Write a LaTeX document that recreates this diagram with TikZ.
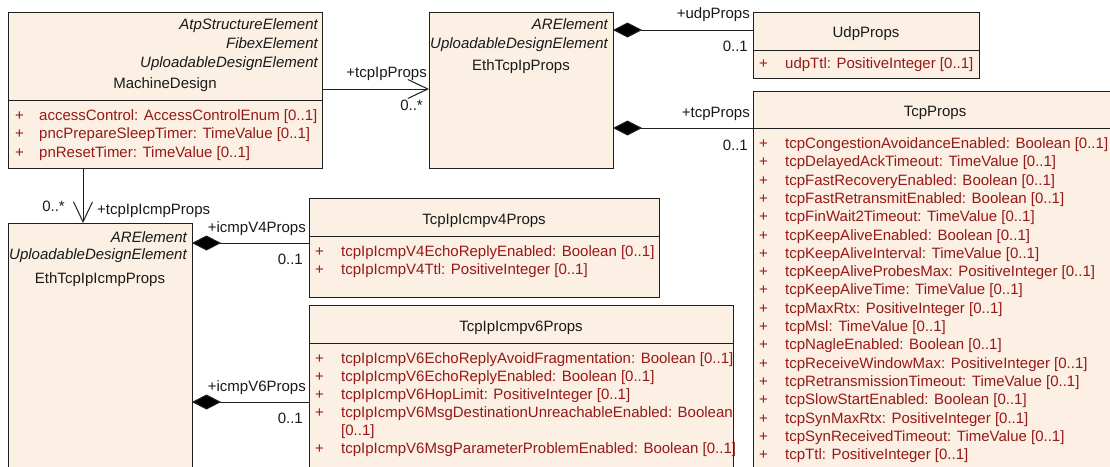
\documentclass[tikz,border=0pt]{standalone}
\usepackage{fontspec}
\setmainfont{Liberation Sans}
\usetikzlibrary{arrows.meta}
\definecolor{boxfill}{RGB}{251,240,227}
\definecolor{attr}{RGB}{150,25,25}
\definecolor{edge}{RGB}{30,30,30}
\tikzset{
  umlbox/.style={draw=edge, fill=boxfill, line width=1pt, rectangle, anchor=north west, inner sep=0pt},
  txt/.style={inner sep=0pt, text height=11pt, text depth=0pt, font=\fontsize{15}{18}\selectfont, text=black!90},
  stereo/.style={txt, anchor=east, font=\fontsize{15}{18}\selectfont\itshape},
  cname/.style={txt, anchor=center},
  plus/.style={txt, anchor=west, text=attr},
  attrt/.style={txt, anchor=west, text=attr},
  mult/.style={txt, anchor=east},
  role/.style={txt},
  comp/.style={draw=edge, line width=1pt, {Diamond[length=29pt,width=15pt,fill=black]}-},
  assoc/.style={draw=edge, line width=1pt, -{Straight Barb[length=20pt,width=19pt,line width=1pt]}},
}
\begin{document}
\begin{tikzpicture}[x=1pt,y=-1pt]
\useasboundingbox (0,0) rectangle (1110,466);
\clip (0,0) rectangle (1110,466);
\fill[white] (0,0) rectangle (1110,466);

% ---------- MachineDesign ----------
\node[umlbox, minimum width=314pt, minimum height=156pt] (md) at (8,12) {};
\draw[edge, line width=1pt] (md.west |- 0,100) -- (md.east |- 0,100);
\node[stereo] (md-s1) at (318,24) {AtpStructureElement};
\node[stereo] (md-s2) at (318,43) {FibexElement};
\node[stereo] (md-s3) at (318,62) {UploadableDesignElement};
\node[cname] (md-n) at (165,83) {MachineDesign};
\node[plus] (md-p1) at (15,115) {+};
\node[attrt] (md-a1) at (39,115) {accessControl: AccessControlEnum [0..1]};
\node[plus] (md-p2) at (15,133) {+};
\node[attrt] (md-a2) at (39,133) {pncPrepareSleepTimer: TimeValue [0..1]};
\node[plus] (md-p3) at (15,152) {+};
\node[attrt] (md-a3) at (39,152) {pnResetTimer: TimeValue [0..1]};

% ---------- EthTcpIpProps ----------
\node[umlbox, minimum width=184pt, minimum height=156pt] (eip) at (429,12) {};
\node[stereo] (eip-s1) at (608,24) {ARElement};
\node[stereo] (eip-s2) at (608,43) {UploadableDesignElement};
\node[cname] (eip-n) at (521,65) {EthTcpIpProps};

% ---------- UdpProps ----------
\node[umlbox, minimum width=226pt, minimum height=66pt] (udp) at (753,12) {};
\draw[edge, line width=1pt] (udp.west |- 0,50) -- (udp.east |- 0,50);
\node[cname] (udp-n) at (866,32) {UdpProps};
\node[plus] (udp-p1) at (759,63) {+};
\node[attrt] (udp-a1) at (785,63) {udpTtl: PositiveInteger [0..1]};

% ---------- TcpProps ----------
\node[umlbox, minimum width=364pt, minimum height=400pt] (tcp) at (753,91) {};
\draw[edge, line width=1pt] (tcp.west |- 0,128) -- (tcp.east |- 0,128);
\node[cname] (tcp-n) at (935,111) {TcpProps};
\foreach \t [count=\i from 0] in {
  {tcpCongestionAvoidanceEnabled: Boolean [0..1]},
  {tcpDelayedAckTimeout: TimeValue [0..1]},
  {tcpFastRecoveryEnabled: Boolean [0..1]},
  {tcpFastRetransmitEnabled: Boolean [0..1]},
  {tcpFinWait2Timeout: TimeValue [0..1]},
  {tcpKeepAliveEnabled: Boolean [0..1]},
  {tcpKeepAliveInterval: TimeValue [0..1]},
  {tcpKeepAliveProbesMax: PositiveInteger [0..1]},
  {tcpKeepAliveTime: TimeValue [0..1]},
  {tcpMaxRtx: PositiveInteger [0..1]},
  {tcpMsl: TimeValue [0..1]},
  {tcpNagleEnabled: Boolean [0..1]},
  {tcpReceiveWindowMax: PositiveInteger [0..1]},
  {tcpRetransmissionTimeout: TimeValue [0..1]},
  {tcpSlowStartEnabled: Boolean [0..1]},
  {tcpSynMaxRtx: PositiveInteger [0..1]},
  {tcpSynReceivedTimeout: TimeValue [0..1]},
  {tcpTtl: PositiveInteger [0..1]}}{
  \node[plus] (tcp-p\i) at (759,143+18.3*\i) {+};
  \node[attrt] (tcp-a\i) at (785,143+18.3*\i) {\t};
}

% ---------- EthTcpIpIcmpProps ----------
\node[umlbox, minimum width=184pt, minimum height=260pt] (icmp) at (8,223) {};
\node[stereo] (icmp-s1) at (187,237) {ARElement};
\node[stereo] (icmp-s2) at (187,254) {UploadableDesignElement};
\node[cname] (icmp-n) at (100,278) {EthTcpIpIcmpProps};

% ---------- TcpIpIcmpv4Props ----------
\node[umlbox, minimum width=350pt, minimum height=99pt] (v4) at (309,198) {};
\draw[edge, line width=1pt] (v4.west |- 0,236) -- (v4.east |- 0,236);
\node[cname] (v4-n) at (484,219) {TcpIpIcmpv4Props};
\node[plus] (v4-p1) at (315,251) {+};
\node[attrt] (v4-a1) at (341,251) {tcpIpIcmpV4EchoReplyEnabled: Boolean [0..1]};
\node[plus] (v4-p2) at (315,269) {+};
\node[attrt] (v4-a2) at (341,269) {tcpIpIcmpV4Ttl: PositiveInteger [0..1]};

% ---------- TcpIpIcmpv6Props ----------
\node[umlbox, minimum width=424pt, minimum height=200pt] (v6) at (309,305) {};
\draw[edge, line width=1pt] (v6.west |- 0,343) -- (v6.east |- 0,343);
\node[cname] (v6-n) at (521,326) {TcpIpIcmpv6Props};
\node[plus] (v6-p1) at (315,358) {+};
\node[attrt] (v6-a1) at (341,358) {tcpIpIcmpV6EchoReplyAvoidFragmentation: Boolean [0..1]};
\node[plus] (v6-p2) at (315,376) {+};
\node[attrt] (v6-a2) at (341,376) {tcpIpIcmpV6EchoReplyEnabled: Boolean [0..1]};
\node[plus] (v6-p3) at (315,394) {+};
\node[attrt] (v6-a3) at (341,394) {tcpIpIcmpV6HopLimit: PositiveInteger [0..1]};
\node[plus] (v6-p4) at (315,412) {+};
\node[attrt] (v6-a4) at (341,412) {tcpIpIcmpV6MsgDestinationUnreachableEnabled: Boolean};
\node[attrt] (v6-a4b) at (341,430) {[0..1]};
\node[plus] (v6-p5) at (315,448) {+};
\node[attrt] (v6-a5) at (341,448) {tcpIpIcmpV6MsgParameterProblemEnabled: Boolean [0..1]};

% ---------- connectors ----------
\coordinate (c1) at (322,89);
\draw[assoc] (c1) -- (eip.west |- c1);
\node[role, anchor=east] (r1) at (427,72) {+tcpIpProps};
\node[mult] (m1) at (423,105) {0..*};

\coordinate (c2) at (83,168);
\draw[assoc] (c2) -- (c2 |- icmp.north);
\node[mult] (m2) at (65,206) {0..*};
\node[role, anchor=west] (r2) at (97,209) {+tcpIpIcmpProps};

\coordinate (c3) at (613,30);
\draw[comp] (c3) -- (udp.west |- c3);
\node[role, anchor=east] (r3) at (750,13) {+udpProps};
\node[mult] (m3) at (748,46) {0..1};

\coordinate (c4) at (613,128);
\draw[comp] (c4) -- (tcp.west |- c4);
\node[role, anchor=east] (r4) at (750,112) {+tcpProps};
\node[mult] (m4) at (748,145) {0..1};

\coordinate (c5) at (192,243);
\draw[comp] (c5) -- (v4.west |- c5);
\node[role, anchor=east] (r5) at (306,227) {+icmpV4Props};
\node[mult] (m5) at (303,259) {0..1};

\coordinate (c6) at (192,402);
\draw[comp] (c6) -- (v6.west |- c6);
\node[role, anchor=east] (r6) at (306,386) {+icmpV6Props};
\node[mult] (m6) at (303,418) {0..1};
\end{tikzpicture}
\end{document}
